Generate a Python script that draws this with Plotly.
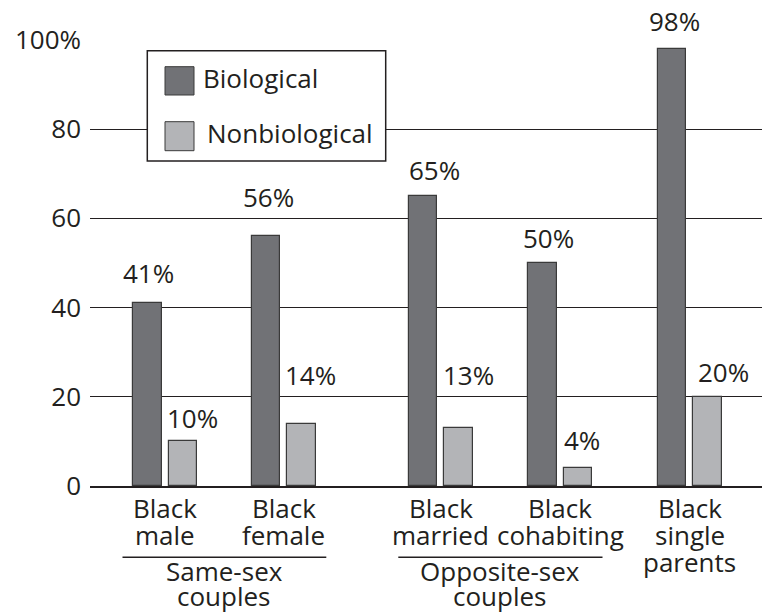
import plotly.graph_objects as go

# ---------------- data ----------------
categories_line1 = ["Black", "Black", "Black", "Black", "Black"]
categories_line2 = ["male", "female", "married", "cohabiting", "single"]
categories_line3 = ["", "", "", "", "parents"]
biological = [41, 56, 65, 50, 98]
nonbiological = [10, 14, 13, 4, 20]
group_names = [["Same-sex", "couples"], ["Opposite-sex", "couples"]]
ytick_vals = [0, 20, 40, 60, 80, 100]
ytick_text = ["0", "20", "40", "60", "80", "100%"]
series_names = ["Biological", "Nonbiological"]

# ---------------- layout constants ----------------
W, H = 765, 615
ML, MR, MT, MB = 90, 3, 39, 129
PW, PH = W - ML - MR, H - MT - MB
group_x = [75, 193.8, 350.8, 470, 599.7]      # group centres (x-axis units = px from plot left)
bar_w = 28.5
bio_off, non_off = -32, 3.5
groups_span = [(0, 1), (2, 3)]
span_pad = 42.5

# label fine offsets (px): horizontal shift and baseline gap above bar top
bio_dx = [1.7, 2, 11, 6.5, 2.3]
bio_gap = [18, 27, 14, 13, 16]
non_dx = [9.8, 8.9, 9.5, 4.4, 16.3]
non_gap = [11, 37, 41, 16, 13]

FONT = "Open Sans"
FS = 26
TXT = "#231f20"
DARK = "#717276"
LIGHT = "#b3b4b7"
EDGE = "#3a3a3a"
DESC = 8  # baseline to box-bottom distance for annotations


def px2x(px):
    return (px - ML) / PW


def px2y(py):
    return (MT + PH - py) / PH


fig = go.Figure()
fig.add_trace(go.Bar(x=group_x, y=biological, width=bar_w, offset=bio_off,
                     marker=dict(color=DARK, line=dict(color=EDGE, width=1.2)),
                     name=series_names[0], showlegend=False))
fig.add_trace(go.Bar(x=group_x, y=nonbiological, width=bar_w, offset=non_off,
                     marker=dict(color=LIGHT, line=dict(color=EDGE, width=1.2)),
                     name=series_names[1], showlegend=False))

ann = []
# value labels
for i, gx in enumerate(group_x):
    bc = gx + bio_off + bar_w / 2
    nc = gx + non_off + bar_w / 2
    ann.append(dict(x=bc + bio_dx[i], y=biological[i], xref="x", yref="y",
                    text=f"{biological[i]}%", showarrow=False, xanchor="center",
                    yanchor="bottom", yshift=bio_gap[i] - DESC))
    ann.append(dict(x=nc + non_dx[i], y=nonbiological[i], xref="x", yref="y",
                    text=f"{nonbiological[i]}%", showarrow=False, xanchor="center",
                    yanchor="bottom", yshift=non_gap[i] - DESC))

# category labels (one annotation per line)
line_base = [520, 547, 574]
for i, gx in enumerate(group_x):
    for li, lines in enumerate([categories_line1, categories_line2, categories_line3]):
        if lines[i]:
            ann.append(dict(x=gx, y=px2y(line_base[li] + DESC), xref="x", yref="paper",
                            text=lines[i], showarrow=False, xanchor="center", yanchor="bottom"))

# group labels + underlines
shapes = []
grp_base = [583, 608]
for (a, b), names in zip(groups_span, group_names):
    x0 = group_x[a] - span_pad
    x1 = group_x[b] + span_pad
    shapes.append(dict(type="line", xref="x", yref="paper", x0=x0, x1=x1,
                       y0=px2y(557.3), y1=px2y(557.3), line=dict(color=TXT, width=1.5)))
    for li, t in enumerate(names):
        ann.append(dict(x=(x0 + x1) / 2, y=px2y(grp_base[li] + DESC), xref="x", yref="paper",
                        text=t, showarrow=False, xanchor="center", yanchor="bottom"))

# legend drawn manually
shapes.append(dict(type="rect", xref="paper", yref="paper", layer="above",
                   x0=px2x(147.3), x1=px2x(385.7), y0=px2y(161), y1=px2y(50.7),
                   fillcolor="white", line=dict(color=TXT, width=1.5)))
for (top, bot), col in zip([(66.7, 95), (121.7, 150.7)], [DARK, LIGHT]):
    shapes.append(dict(type="rect", xref="paper", yref="paper", layer="above",
                       x0=px2x(165), x1=px2x(194), y0=px2y(bot), y1=px2y(top),
                       fillcolor=col, line=dict(color=EDGE, width=1)))
for name, left, base in zip(series_names, [201, 205], [90, 145]):
    ann.append(dict(x=px2x(left), y=px2y(base + DESC), xref="paper", yref="paper",
                    text=name, showarrow=False, xanchor="left", yanchor="bottom"))

fig.update_layout(
    width=W, height=H,
    margin=dict(l=ML, r=MR, t=MT, b=MB),
    paper_bgcolor="white", plot_bgcolor="white",
    font=dict(family=FONT, size=FS, color=TXT),
    annotations=ann, shapes=shapes,
    xaxis=dict(range=[0, PW], showgrid=False, zeroline=False, showticklabels=False,
               ticks="", showline=True, linecolor=TXT, linewidth=2, fixedrange=True),
    yaxis=dict(range=[0, 100.2], tickvals=ytick_vals, ticktext=ytick_text,
               showgrid=True, gridcolor=TXT, gridwidth=1.3, zeroline=False,
               showline=False, ticks="", ticklabelstandoff=8, fixedrange=True),
    bargap=0,
)

fig.write_html("out.html", config={"displayModeBar": False},
               post_script="document.body.style.margin='0px';document.body.style.overflow='hidden';")
